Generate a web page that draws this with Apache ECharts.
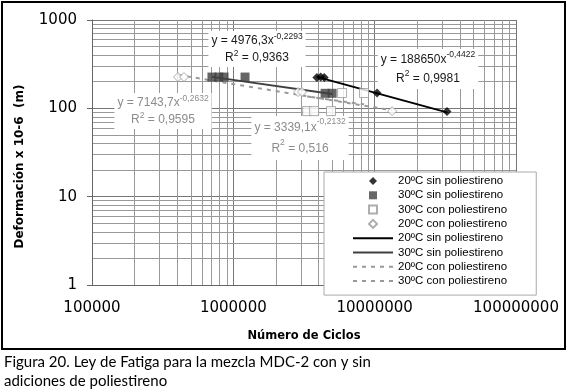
<!DOCTYPE html>
<html>
<head>
<meta charset="utf-8">
<script src="https://cdn.jsdelivr.net/npm/echarts@6/dist/echarts.min.js"></script>
<style>
  html, body { margin: 0; padding: 0; background: #fff; }
  #chart { width: 571px; height: 392px; }
</style>
</head>
<body>
<div id="chart"></div>
<script>
// ---- Data ----
const xTickLabels = ['100000', '1000000', '10000000', '100000000'];
const yTickLabels = ['1', '10', '100', '1000'];

const sin20Cycles = [3.9e6, 4.15e6, 4.4e6, 1.04e7, 3.25e7];
const sin20Def    = [224, 226, 224, 149, 92];
const sin30Cycles = [7.06e5, 7.9e5, 8.6e5, 1.21e6, 4.46e6, 5.0e6];
const sin30Def    = [226, 226, 226, 226, 148, 148];
const con30Cycles = [3.33e6, 3.73e6, 4.91e6, 5.88e6, 8.41e6];
const con30Def    = [93, 93, 93, 149, 149];
const con20Cycles = [4.06e5, 4.48e5, 2.87e6, 3.06e6, 1.33e7];
const con20Def    = [226, 226, 153, 153, 93];

// trend-line end points
const trendSin20Cycles = [3.9e6, 3.25e7];
const trendSin20Def    = [227, 90];
const trendSin30Cycles = [7.06e5, 5.0e6];
const trendSin30Def    = [227, 145];
const trendCon20Cycles = [4.06e5, 1.33e7];
const trendCon20Def    = [239, 95];
const trendCon30Cycles = [3.33e6, 8.41e6];
const trendCon30Def    = [136, 111];

const names = [
  '20ºC sin poliestireno', '30ºC sin poliestireno',
  '30ºC con poliestireno', '20ºC con poliestireno'
];
// line-series names carry a trailing space so legend keeps separate entries
const lineNames = [
  '20ºC sin poliestireno ', '30ºC sin poliestireno ',
  '20ºC con poliestireno ', '30ºC con poliestireno '
];

const zip = (a, b) => a.map((v, i) => [v, b[i]]);

// minor grid positions (2..9 per decade)
const minorX = [], minorY = [];
for (let e = 5; e < 8; e++) for (let m = 2; m <= 9; m++) minorX.push(m * Math.pow(10, e));
for (let e = 0; e < 3; e++) for (let m = 2; m <= 9; m++) minorY.push(m * Math.pow(10, e));

const chart = echarts.init(document.getElementById('chart'), null, { renderer: 'canvas' });

function eqText(x, y, text, color, lh) {
  const rich = {
    n: { fontSize: 12, fontFamily: 'Liberation Sans', fill: color, align: 'center', lineHeight: lh },
    s: { fontSize: 8.5, fontFamily: 'Liberation Sans', fill: color, align: 'center', verticalAlign: 'top', lineHeight: 9 }
  };
  return {
    type: 'text', z: 1, zlevel: 0, silent: true,
    style: {
      x: x, y: y, text: text, rich: rich, align: 'center', verticalAlign: 'top',
      backgroundColor: '#fff', padding: [1, 3]
    }
  };
}

const hidden = { color: 'rgba(0,0,0,0)', borderColor: 'rgba(0,0,0,0)', borderWidth: 0, opacity: 0 };
const DIAMOND = 'path://M0,-1L1,0L0,1L-1,0Z';
const SQUARE = 'path://M0,0L1,0L1,1L0,1Z';
const scatterIcons = [DIAMOND, SQUARE, SQUARE, DIAMOND];

const option = {
  animation: false,
  backgroundColor: '#fff',
  grid: { left: 92, right: 55, top: 20, bottom: 107, containLabel: false },
  xAxis: {
    type: 'log', logBase: 10, min: 1e5, max: 1e8,
    name: 'Número de Ciclos', nameLocation: 'middle', nameGap: 45,
    nameTextStyle: { fontFamily: 'DejaVu Sans', fontWeight: 'bold', fontSize: 11.5, color: '#000' },
    axisLine: { show: true, lineStyle: { color: '#666', width: 1 } },
    axisTick: { show: false },
    axisLabel: {
      fontFamily: 'DejaVu Sans', fontSize: 15, color: '#000', margin: 16,
      formatter: (v) => xTickLabels[Math.round(Math.log10(v)) - 5] || ''
    },
    splitLine: { show: true, lineStyle: { color: '#777', width: 1 } }
  },
  yAxis: {
    type: 'log', logBase: 10, min: 1, max: 1000,
    name: 'Deformación x 10-6  (m)', nameLocation: 'middle', nameGap: 66,
    nameTextStyle: { fontFamily: 'DejaVu Sans', fontWeight: 'bold', fontSize: 12, color: '#000', padding: [0, 28, 0, 0] },
    axisLine: { show: true, lineStyle: { color: '#666', width: 1 } },
    axisTick: { show: true, length: 5, lineStyle: { color: '#666' } },
    axisLabel: {
      fontFamily: 'DejaVu Sans', fontSize: 15, color: '#000', margin: 15,
      formatter: (v) => yTickLabels[Math.round(Math.log10(v))] || ''
    },
    splitLine: { show: true, lineStyle: { color: '#777', width: 1 } }
  },
  legend: {
    orient: 'vertical', left: 324, top: 172,
    padding: [2, 26, 7, 28],
    itemWidth: 40, itemHeight: 8, itemGap: 0.3,
    symbolKeepAspect: true,
    backgroundColor: '#fff', borderColor: '#aaa', borderWidth: 1,
    textStyle: { fontFamily: 'Liberation Sans', fontSize: 11.5, color: '#000', lineHeight: 14 },
    data: names.map((n, i) => ({ name: n, icon: scatterIcons[i] }))
      .concat(lineNames.map(n => ({ name: n, itemStyle: hidden })))
  },
  series: [
    {
      type: 'line', name: 'minor-grid', data: [], silent: true, z: 0,
      markLine: {
        silent: true, z: 0, symbol: ['none', 'none'], label: { show: false },
        lineStyle: { color: '#999', width: 1, type: 'solid' }, emphasis: { disabled: true },
        animation: false,
        data: minorX.map(v => ({ xAxis: v })).concat(minorY.map(v => ({ yAxis: v })))
      }
    },
    {
      type: 'scatter', name: names[0], data: zip(sin20Cycles, sin20Def), z: 4,
      symbol: 'diamond', symbolSize: 9, itemStyle: { color: '#000' }
    },
    {
      type: 'scatter', name: names[1], data: zip(sin30Cycles, sin30Def), z: 4,
      symbol: 'rect', symbolSize: 9, itemStyle: { color: '#404040' }
    },
    {
      type: 'scatter', name: names[2], data: zip(con30Cycles, con30Def), z: 4,
      symbol: 'rect', symbolSize: 9, itemStyle: { color: '#fff', borderColor: '#999', borderWidth: 1 }
    },
    {
      type: 'scatter', name: names[3], data: zip(con20Cycles, con20Def), z: 4,
      symbol: 'diamond', symbolSize: 9, itemStyle: { color: '#fff', borderColor: '#999', borderWidth: 1 }
    },
    {
      type: 'line', name: lineNames[0], data: zip(trendSin20Cycles, trendSin20Def), z: 3,
      symbol: 'none', showSymbol: false, lineStyle: { color: '#000', width: 2 }
    },
    {
      type: 'line', name: lineNames[1], data: zip(trendSin30Cycles, trendSin30Def), z: 3,
      symbol: 'none', showSymbol: false, lineStyle: { color: '#404040', width: 2 }
    },
    {
      type: 'line', name: lineNames[2], data: zip(trendCon20Cycles, trendCon20Def), z: 3,
      symbol: 'none', showSymbol: false, lineStyle: { color: '#999', width: 2, type: [4, 5] }
    },
    {
      type: 'line', name: lineNames[3], data: zip(trendCon30Cycles, trendCon30Def), z: 3,
      symbol: 'none', showSymbol: false, lineStyle: { color: '#999', width: 2, type: [4, 5] }
    }
  ],
  graphic: [
    eqText(257, 31, '{n|y = 4976,3x}{s|-0,2293}\n{n|R}{s|2}{n| = 0,9363}', '#1a1a1a', 17),
    eqText(428, 49, '{n|y = 188650x}{s|-0,4422}\n{n|R}{s|2}{n| = 0,9981}', '#1a1a1a', 19),
    eqText(163, 93, '{n|y = 7143,7x}{s|-0,2632}\n{n|R}{s|2}{n| = 0,9595}', '#8c8c8c', 17),
    eqText(300, 116, '{n|y = 3339,1x}{s|-0,2132}\n{n|R}{s|2}{n| = 0,516}', '#8c8c8c', 21),
    {
      type: 'rect', z: 10, silent: true,
      shape: { x: 2, y: 2, width: 563, height: 347 },
      style: { fill: 'none', stroke: '#000', lineWidth: 2 }
    },
    {
      type: 'text', z: 10, silent: true,
      style: {
        x: 4, y: 353,
        text: 'Figura 20. Ley de Fatiga para la mezcla MDC-2 con y sin\nadiciones de poliestireno',
        fontFamily: 'Lato', fontSize: 15, lineHeight: 19, fill: '#000'
      }
    }
  ]
};

chart.setOption(option);
</script>
</body>
</html>
